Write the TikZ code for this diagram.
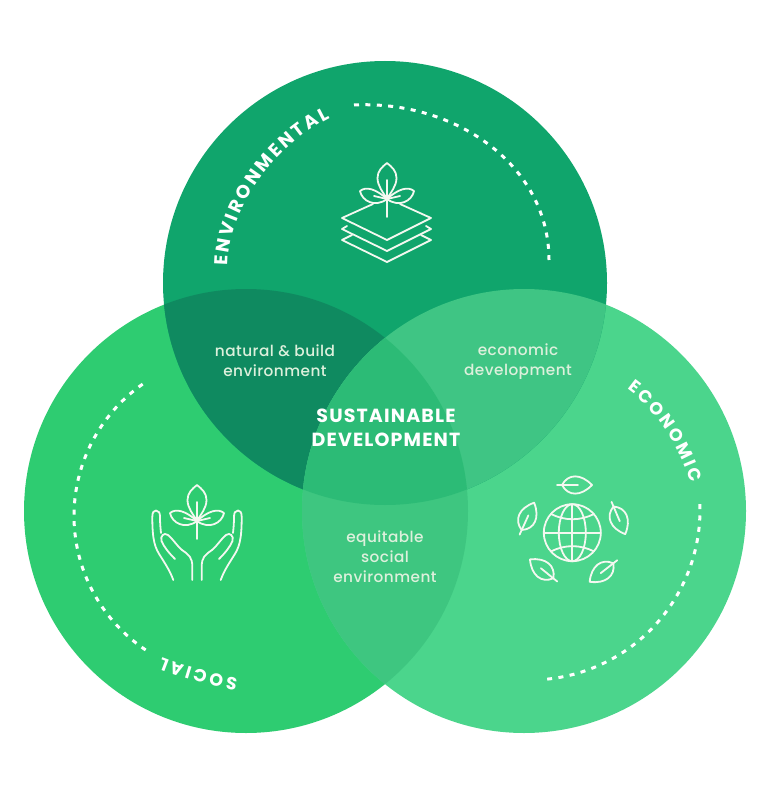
\documentclass[tikz,border=0pt]{standalone}
\usepackage{fontspec}
\usetikzlibrary{decorations.text}
\newfontfamily\labf{Poppins Medium}[LetterSpace=3]
\newfontfamily\headf{Poppins}[LetterSpace=6]
\newfontfamily\curvf{Poppins}
\definecolor{ctop}{HTML}{10A56C}
\definecolor{cleft}{HTML}{2ECC71}
\definecolor{cright}{HTML}{4BD58C}
\definecolor{ctl}{HTML}{0F8A60}
\definecolor{ctr}{HTML}{3FC584}
\definecolor{cbot}{HTML}{3EC680}
\definecolor{cmid}{HTML}{2CBB76}
\definecolor{ink}{HTML}{F4F8F0}
\definecolor{pale}{HTML}{DDF0DC}
\newcommand{\discT}{(385,283) circle[radius=222]}
\newcommand{\discL}{(246,511) circle[radius=222]}
\newcommand{\discR}{(524,511) circle[radius=222]}
\newcommand{\envfmt}{\fontsize{18.5}{20}\selectfont\curvf\bfseries\color{white}}
\newcommand{\ecofmt}{\fontsize{17.5}{19}\selectfont\curvf\bfseries\color{white}}
\newcommand{\socfmt}{\fontsize{17.5}{19}\selectfont\curvf\bfseries\color{white}}
\tikzset{
  icon/.style={draw=ink,line width=1.8pt,line cap=round,line join=round},
  dots/.style={draw=white,line width=3pt,dash pattern=on 5pt off 6.4pt},
  minor/.style={text=pale,font=\fontsize{15.3}{20}\selectfont\labf,align=center,inner sep=0pt},
  major/.style={text=white,font=\fontsize{19}{24}\selectfont\headf\bfseries,align=center,inner sep=0pt},
  leaf/.pic={
    \draw[icon] (0,0) .. controls (6,-11.5) and (19,-11.5) .. (30,0) .. controls (19,11.5) and (6,11.5) .. (0,0);
    \draw[icon] (-5,0) -- (16,0);
  },
  plant/.pic={
    \draw[icon] (0,-36) .. controls (-5,-32) and (-9.5,-28) .. (-9.5,-21) .. controls (-9.5,-13) and (-4,-7) .. (0,0)
      .. controls (4,-7) and (9.5,-13) .. (9.5,-21) .. controls (9.5,-28) and (5,-32) .. (0,-36);
    \draw[icon] (0,-19) -- (0,18);
    \draw[icon] (0,0) .. controls (-11,-10) and (-21,-13) .. (-27,-8) .. controls (-25,2) and (-12,9) .. (0,0);
    \draw[icon] (0,0) .. controls (11,-10) and (21,-13) .. (27,-8) .. controls (25,2) and (12,9) .. (0,0);
    \draw[icon] (0,0) -- (-13,-3);
    \draw[icon] (0,0) -- (13,-3);
    \fill[ink] (0,0) circle[radius=2.2];
  },
  hand/.pic={
    \draw[icon] (-23.7,59) .. controls (-27,50) and (-31,44) .. (-36,36) .. controls (-42,27) and (-44.7,20) .. (-44.7,-4)
      .. controls (-44.7,-9) and (-43,-10.5) .. (-41,-10.5) .. controls (-38,-10.5) and (-37,-8) .. (-37,-4)
      .. controls (-37,3) and (-36.5,7) .. (-36,12);
    \draw[icon] (-22,38) .. controls (-28,32) and (-33,26) .. (-35.5,20) .. controls (-37,15) and (-33,11) .. (-29,14)
      .. controls (-24,18) and (-20,25) .. (-15,29) .. controls (-8,34) and (-4.7,36) .. (-4.7,46) -- (-4.7,59);
  },
}
\begin{document}
\begin{tikzpicture}[x=1pt,y=-1pt]
\useasboundingbox (0,0) rectangle (768,794);
\fill[white] (0,0) rectangle (768,794);
% discs
\fill[cleft] \discL;
\fill[cright] \discR;
\fill[ctop] \discT;
% overlaps
\begin{scope}\clip \discT; \fill[ctl] \discL; \fill[ctr] \discR; \end{scope}
\begin{scope}\clip \discL; \fill[cbot] \discR; \end{scope}
\begin{scope}\clip \discT; \clip \discL; \fill[cmid] \discR; \end{scope}
% dashed arcs
\draw[dots] (354,105) .. controls (455,100) and (549,165) .. (549,260);
\draw[dots] plot[domain=235:123.7,samples=70] ({235+161*cos(\x)},{516+161*sin(\x)});
\draw[dots] plot[domain=-2:84.2,samples=70] ({530+170*cos(\x)},{510+170*sin(\x)});
% curved labels
\path[decorate,decoration={text along path,text align={fit to path},text={|\envfmt|ENVIRONMENTAL}}]
  (228,266) .. controls (228,210) and (275,145) .. (330,118);
\path[decorate,decoration={text along path,text align={fit to path},text={|\ecofmt|ECONOMIC}}]
  (627,389) .. controls (650,405) and (677,440) .. (691,483);
\path[decorate,decoration={text along path,text align={fit to path},text={|\socfmt|SOCIAL}}]
  (238,678) .. controls (213,674) and (187,667) .. (162,657);
% texts
\node[minor] (nb) at (275,361) {natural \& build\\environment};
\node[minor] (ed) at (518,362) {economic\\development};
\node[minor] (es) at (385,556.5) {equitable\\social\\environment};
\node[major] (sd) at (386,428) {SUSTAINABLE\\DEVELOPMENT};
% environmental icon
\pic at (387,199) {plant};
\draw[icon] (373,204) -- (342,218) -- (387,240) -- (431,218) -- (400,204);
\draw[icon] (347,226) -- (342,229) -- (387,251) -- (431,229) -- (426,226);
\draw[icon] (352,235) -- (342,240) -- (387,262) -- (431,240) -- (421,235);
% social icon
\pic at (197,521) {plant};
\pic at (197,521) {hand};
\pic[xscale=-1] at (197,521) {hand};
% economic icon
\draw[icon] (572.3,532.7) circle[radius=28.5];
\draw[icon] (572.3,532.7) ellipse[x radius=13.5,y radius=28.5];
\draw[icon] (572.3,504.2) -- (572.3,561.2);
\draw[icon] (543.8,532.7) -- (600.8,532.7);
\draw[icon] (551,514) .. controls (565,521) and (580,521) .. (594,514);
\draw[icon] (551,551.4) .. controls (565,544.4) and (580,544.4) .. (594,551.4);
\pic at (562,485) {leaf};
\pic[rotate=65.5] at (521.7,530) {leaf};
\pic[rotate=-67] at (613.5,506.5) {leaf};
\pic[rotate=141] at (553.3,578.3) {leaf};
\pic[rotate=218] at (613.3,563.3) {leaf};
\end{tikzpicture}
\end{document}
